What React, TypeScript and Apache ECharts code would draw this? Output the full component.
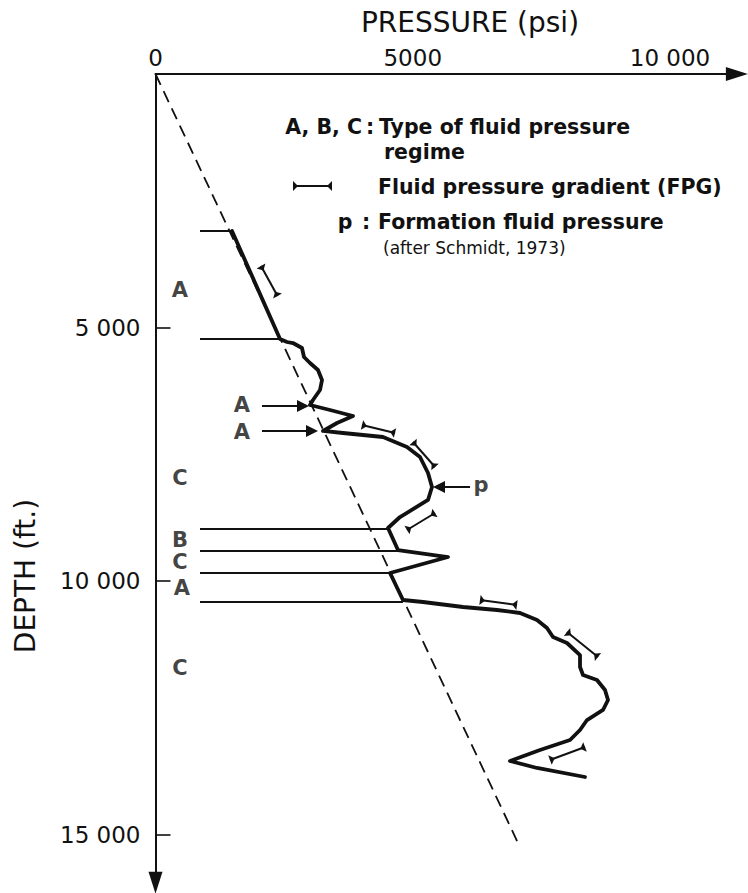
import React, { useEffect, useRef } from 'react';
import * as echarts from 'echarts';

// ---- axis ticks ----
const pressureTicks = [0, 5000, 10000];
const pressureTickLabels = ['0', '5000', '10 000'];
const depthTicks = [5000, 10000, 15000];
const depthTickLabels = ['5 000', '10 000', '15 000'];

// ---- formation fluid pressure curve (psi, ft) ----
const curvePressure = [
  1487, 2420, 2556, 2672, 2847, 2886, 3003, 3158, 3236, 3197, 3061, 3003,
  3392, 3839, 3528, 3256, 3644, 4422, 4888, 5141, 5297, 5374, 5297, 5044,
  4752, 4519, 4713, 5685, 4558, 4810, 5199, 5977, 6638, 7085, 7416, 7609,
  7726, 7998, 8251, 8251, 8309, 8581, 8737, 8795, 8698, 8387, 8251, 8057,
  7473, 6890, 7415, 8348,
];
const curveDepth = [
  3097, 5227, 5286, 5306, 5404, 5582, 5700, 5838, 6036, 6233, 6430, 6529,
  6627, 6746, 6884, 7041, 7081, 7160, 7357, 7554, 7870, 8146, 8402, 8560,
  8738, 8955, 9389, 9527, 9842, 10375, 10414, 10513, 10572, 10631, 10769, 10927,
  11105, 11223, 11460, 11696, 11854, 11953, 12150, 12347, 12544, 12742, 12939, 13136,
  13333, 13550, 13688, 13866,
];

// ---- hydrostatic gradient (dashed) ----
const hydroPressure = [0, 7046];
const hydroDepth = [0, 15168];

// ---- regime boundaries ----
const boundaryStartPressure = 865;
const boundaryDepth = [3097, 5227, 8974, 9408, 9842, 10414];
const boundaryEndPressure = [1487, 2420, 4519, 4713, 4558, 4810];

// ---- regime letters ----
const regimeLetters = ['A', 'C', 'B', 'C', 'A', 'C'];
const regimeLetterPressure = [476, 476, 476, 476, 515, 476];
const regimeLetterDepth = [4260, 7968, 9191, 9625, 10138, 11716];

// ---- pointer arrows ----
const arrowLabels = ['A', 'A', 'p'];
const arrowLabelPressure = [1681, 1681, 6327];
const arrowLabelDepth = [6529, 7061, 8107];
const arrowFromPressure = [2070, 2070, 6113];
const arrowToPressure = [2867, 3042, 5510];
const arrowDepth = [6548, 7041, 8146];

// ---- fluid pressure gradient markers ----
const fpgStartPressure = [2051, 4014, 5005, 4888, 6307, 7998, 7667];
const fpgStartDepth = [3787, 6923, 7258, 8994, 10375, 11006, 13531];
const fpgEndPressure = [2372, 4655, 5433, 5433, 7026, 8601, 8348];
const fpgEndDepth = [4379, 7081, 7751, 8659, 10473, 11499, 13274];

const X_MAX = 11300;
const Y_MAX = 15950;
const PX_PER_PSI = 0.05145;
const PX_PER_FT = 0.0507;

const INK = '#111';
const FONT = 'DejaVu Sans';

function tickLabel(values: number[], labels: string[]) {
  return (v: number) => {
    const i = values.indexOf(v);
    return i >= 0 ? labels[i] : '';
  };
}

export default function App() {
  const ref = useRef<HTMLDivElement>(null);

  useEffect(() => {
    if (!ref.current) return;
    const chart = echarts.init(ref.current, undefined, { renderer: 'svg' });

    const curveData = curvePressure.map((p, i) => [p, curveDepth[i]]);
    const hydroData = hydroPressure.map((p, i) => [p, hydroDepth[i]]);
    const boundaryData = boundaryDepth.map((d, i) => ({
      coords: [
        [boundaryStartPressure, d],
        [boundaryEndPressure[i], d],
      ],
    }));
    const letterData = regimeLetters
      .map((t, i) => [regimeLetterPressure[i], regimeLetterDepth[i], t])
      .concat(arrowLabels.map((t, i) => [arrowLabelPressure[i], arrowLabelDepth[i], t]));
    const arrowData = arrowDepth.map((d, i) => ({
      coords: [
        [arrowFromPressure[i], d],
        [arrowToPressure[i], d],
      ],
    }));
    const fpgData = fpgStartPressure.map((p, i) => [p, fpgStartDepth[i], fpgEndPressure[i], fpgEndDepth[i]]);

    const capped = (a: number[], b: number[]) => {
      const dx = b[0] - a[0];
      const dy = b[1] - a[1];
      const len = Math.hypot(dx, dy) || 1;
      const ux = dx / len;
      const uy = dy / len;
      const nx = -uy;
      const ny = ux;
      const w = 5;
      const h = 5;
      return [
        { type: 'line', shape: { x1: a[0], y1: a[1], x2: b[0], y2: b[1] }, style: { stroke: INK, lineWidth: 2 } },
        {
          type: 'polygon',
          shape: { points: [[a[0] + nx * w, a[1] + ny * w], [a[0] - nx * w, a[1] - ny * w], [a[0] + ux * h, a[1] + uy * h]] },
          style: { fill: INK },
        },
        {
          type: 'polygon',
          shape: { points: [[b[0] + nx * w, b[1] + ny * w], [b[0] - nx * w, b[1] - ny * w], [b[0] - ux * h, b[1] - uy * h]] },
          style: { fill: INK },
        },
      ];
    };

    const legendText = (text: string, x: number, y: number, size = 20.5, weight: any = 'bold', align = 'left') => ({
      type: 'text',
      x,
      y,
      style: { text, fill: INK, font: `${weight} ${size}px "${FONT}"`, textAlign: align, textVerticalAlign: 'middle' },
    });

    const option: any = {
      animation: false,
      backgroundColor: '#fff',
      grid: {
        left: 155.5,
        top: 74,
        width: X_MAX * PX_PER_PSI,
        height: Y_MAX * PX_PER_FT,
      },
      xAxis: {
        type: 'value',
        position: 'top',
        min: 0,
        max: X_MAX,
        interval: 5000,
        axisLine: {
          onZero: false,
          symbol: ['none', 'triangle'],
          symbolSize: [14, 22],
          lineStyle: { color: INK, width: 2 },
        },
        axisTick: { show: false },
        splitLine: { show: false },
        axisLabel: {
          color: INK,
          fontFamily: FONT,
          fontSize: 23,
          margin: 5,
          customValues: pressureTicks,
          formatter: tickLabel(pressureTicks, pressureTickLabels),
        },
      },
      yAxis: {
        type: 'value',
        inverse: true,
        min: 0,
        max: Y_MAX,
        interval: 5000,
        axisLine: {
          onZero: false,
          symbol: ['triangle', 'none'],
          symbolSize: [14, 22],
          lineStyle: { color: INK, width: 2 },
        },
        axisTick: { show: true, inside: true, length: 15, customValues: depthTicks, lineStyle: { color: INK, width: 1.6 } },
        splitLine: { show: false },
        axisLabel: {
          color: INK,
          fontFamily: FONT,
          fontSize: 23,
          margin: 15,
          customValues: depthTicks,
          formatter: tickLabel(depthTicks, depthTickLabels),
        },
      },
      series: [
        {
          type: 'line',
          data: hydroData,
          symbol: 'none',
          silent: true,
          lineStyle: { color: INK, width: 1.8, type: [12, 7] },
        },
        {
          type: 'lines',
          coordinateSystem: 'cartesian2d',
          data: boundaryData,
          symbol: 'none',
          silent: true,
          lineStyle: { color: INK, width: 1.8, opacity: 1 },
        },
        {
          type: 'line',
          data: curveData,
          symbol: 'none',
          silent: true,
          lineStyle: { color: INK, width: 3.8, cap: 'round', join: 'round' },
        },
        {
          type: 'lines',
          coordinateSystem: 'cartesian2d',
          data: arrowData,
          symbol: ['none', 'triangle'],
          symbolSize: 12,
          silent: true,
          lineStyle: { color: INK, width: 1.8, opacity: 1 },
          itemStyle: { color: INK },
        },
        {
          type: 'custom',
          coordinateSystem: 'cartesian2d',
          data: fpgData,
          silent: true,
          encode: { x: [0, 2], y: [1, 3] },
          renderItem: (_params: any, api: any) => {
            const a = api.coord([api.value(0), api.value(1)]);
            const b = api.coord([api.value(2), api.value(3)]);
            return { type: 'group', children: capped(a, b) };
          },
        },
        {
          type: 'scatter',
          data: letterData,
          symbolSize: 1,
          silent: true,
          itemStyle: { color: 'rgba(0,0,0,0)' },
          label: {
            show: true,
            position: 'inside',
            formatter: (p: any) => p.value[2],
            color: INK,
            fontFamily: FONT,
            fontSize: 21,
            fontWeight: 'bold',
          },
        },
      ],
      graphic: [
        {
          type: 'text',
          x: 470,
          y: 22,
          style: { text: 'PRESSURE (psi)', fill: INK, font: `normal 28px "${FONT}"`, textAlign: 'center', textVerticalAlign: 'middle' },
        },
        {
          type: 'text',
          x: 25,
          y: 576,
          rotation: Math.PI / 2,
          style: { text: 'DEPTH (ft.)', fill: INK, font: `normal 28px "${FONT}"`, textAlign: 'center', textVerticalAlign: 'middle' },
        },
        legendText('A, B, C', 362, 127, 20.5, 'bold', 'right'),
        legendText(':', 366, 127),
        legendText('Type of fluid pressure', 379, 127),
        legendText('regime', 384, 152),
        { type: 'group', children: capped([293, 186], [332, 186]) },
        legendText('Fluid pressure gradient (FPG)', 378, 187),
        legendText('p', 345, 222, 20.5, 'bold', 'center'),
        legendText(':', 362, 222),
        legendText('Formation fluid pressure', 378, 222),
        legendText('(after Schmidt, 1973)', 383, 248, 17, 'normal'),
      ],
    };

    chart.setOption(option);
    return () => chart.dispose();
  }, []);

  return <div ref={ref} style={{ position: 'absolute', left: 0, top: 0, width: 748, height: 893 }} />;
}
